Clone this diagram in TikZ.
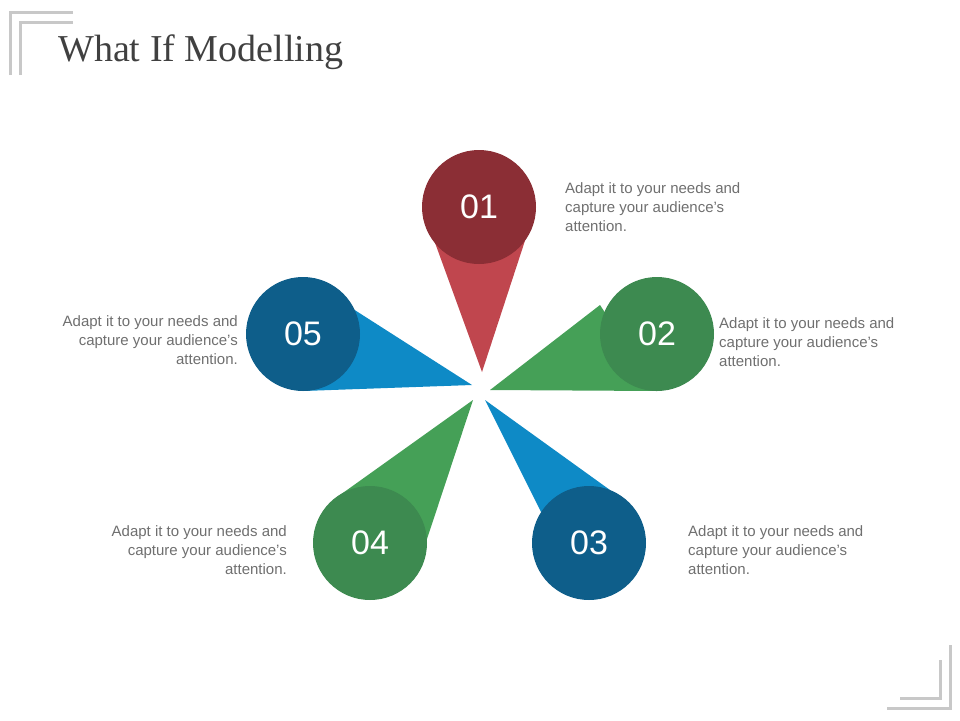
\documentclass[tikz,border=0pt]{standalone}
\usepackage{fontspec}
\setmainfont{Liberation Sans}
\newfontfamily\titlefont{Liberation Serif}
\definecolor{txt}{HTML}{6F6F6F}
\definecolor{redc}{HTML}{8B2E35}\definecolor{redl}{HTML}{C0464E}
\definecolor{grnc}{HTML}{3D8A50}\definecolor{grnl}{HTML}{45A057}
\definecolor{bluc}{HTML}{0E5E8A}\definecolor{blul}{HTML}{0E8AC6}
\definecolor{brk}{HTML}{C8C8C8}
\begin{document}
\begin{tikzpicture}[x=1pt,y=-1pt,
  circ/.style={circle,minimum size=114pt,inner sep=0pt,text=white,font=\fontsize{34}{34}\selectfont},
  desc/.style={text=txt,font=\fontsize{15}{19}\selectfont,inner sep=0pt},
  brkline/.style={draw=brk,line width=3pt}]
\useasboundingbox (0,0) rectangle (960,720);
% brackets
\draw[brkline] (10,75) -- (10,12) -- (73,12);
\draw[brkline] (20,75) -- (20,22) -- (73,22);
\draw[brkline] (950,645) -- (950,708) -- (887,708);
\draw[brkline] (940,660) -- (940,698) -- (900,698);
\node[anchor=west,inner sep=0pt,text=black!75,font=\titlefont\fontsize{38}{38}\selectfont] (title) at (58,52) {What If Modelling};
% cones
\coordinate (t1) at (482,372); \coordinate (t2) at (490,390);
\coordinate (t3) at (485,400); \coordinate (t4) at (473,400); \coordinate (t5) at (472,385);
\fill[redl] (t1) -- (422,207) -- (536,207) -- cycle;
\fill[grnl] (t2) -- (600,305) -- (657,391) -- cycle;
\fill[blul] (t3) -- (610,490) -- (545,520) -- cycle;
\fill[grnl] (t4) -- (340,495) -- (425,545) -- cycle;
\fill[blul] (t5) -- (303,277) -- (303,391) -- cycle;
\node[circ,fill=redc] (c1) at (479,207) {01};
\node[circ,fill=grnc] (c2) at (657,334) {02};
\node[circ,fill=bluc] (c3) at (589,543) {03};
\node[circ,fill=grnc] (c4) at (370,543) {04};
\node[circ,fill=bluc] (c5) at (303,334) {05};
\node[desc,anchor=north west,align=left] (d1) at (565,182) {Adapt it to your needs and\\capture your audience's\\attention.};
\node[desc,anchor=north west,align=left] (d2) at (719,317) {Adapt it to your needs and\\capture your audience's\\attention.};
\node[desc,anchor=north west,align=left] (d3) at (688,525) {Adapt it to your needs and\\capture your audience's\\attention.};
\node[desc,anchor=north east,align=right] (d4) at (287,525) {Adapt it to your needs and\\capture your audience's\\attention.};
\node[desc,anchor=north east,align=right] (d5) at (238,315) {Adapt it to your needs and\\capture your audience's\\attention.};
\end{tikzpicture}
\end{document}
